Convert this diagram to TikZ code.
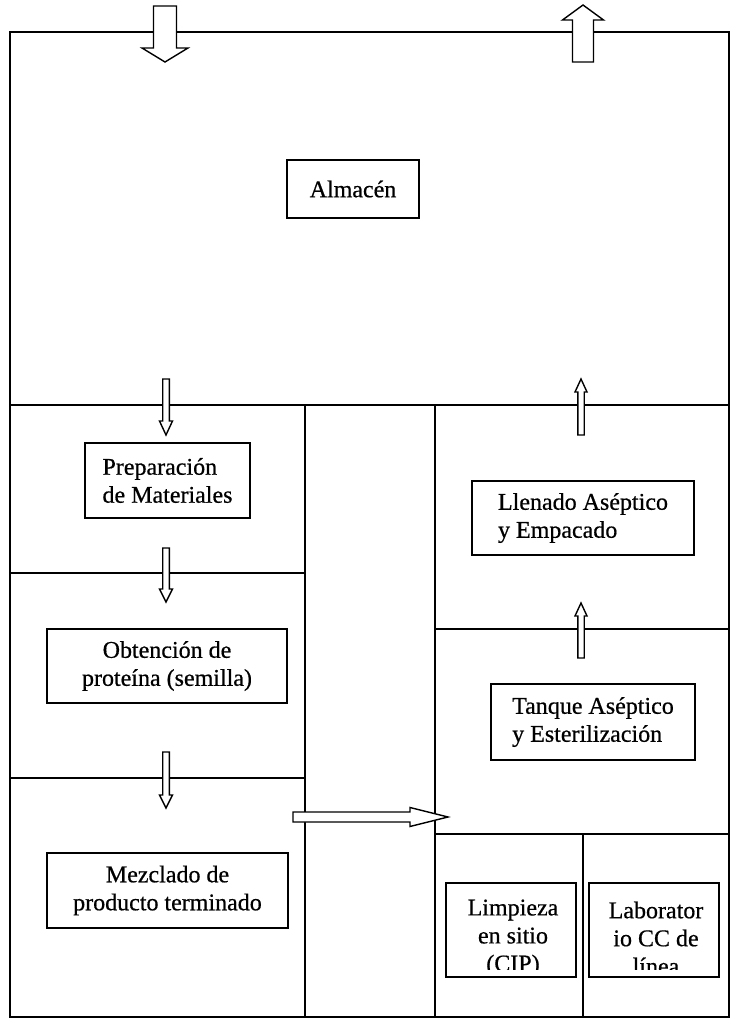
\documentclass[tikz,border=0pt]{standalone}
\usepackage{fontspec}
\setmainfont{Liberation Serif}[FakeBold=0.6]
\newcommand{\vblockarrow}[6]{% cx, ytail, ytip, yheadbase, shafthalf, headhalf
  \draw[blockarrow] ({#1-#5},#2) -- ({#1-#5},#4) -- ({#1-#6},#4) -- (#1,#3)
    -- ({#1+#6},#4) -- ({#1+#5},#4) -- ({#1+#5},#2) -- cycle;}
\begin{document}
\begin{tikzpicture}[x=1pt,y=-1pt,
  wall/.style={line width=1.8pt},
  blockarrow/.style={draw, fill=white, line width=1.4pt, line join=miter},
  box/.style={draw, line width=1.7pt, inner sep=0pt, align=left,
    font=\fontsize{24}{28}\selectfont},
  cbox/.style={box, align=center},
  txt/.style={inner sep=0pt, align=center, font=\fontsize{24}{28}\selectfont}]
\useasboundingbox (0,0) rectangle (731,1019);
% walls
\draw[wall] (10,32) rectangle (729,1017);
\draw[wall] (10,405) -- (729,405);
\draw[wall] (305,405) -- (305,1017);
\draw[wall] (435,405) -- (435,1017);
\draw[wall] (10,573) -- (305,573);
\draw[wall] (10,778) -- (305,778);
\draw[wall] (435,629) -- (729,629);
\draw[wall] (435,834) -- (729,834);
\draw[wall] (583,834) -- (583,1017);
% boxes
\node[box, minimum width=132pt, minimum height=58pt] (alm) at (353,189) {Almac\'en};
\node[box, minimum width=165pt, minimum height=75pt] (prep) at (167.5,480.5) {Preparaci\'on\\de Materiales};
\node[cbox, minimum width=240pt, minimum height=74pt] (obt) at (167,666) {Obtenci\'on de\\prote\'ina (semilla)};
\node[cbox, minimum width=241pt, minimum height=75pt] (mez) at (167.5,890.5) {Mezclado de\\producto terminado};
\node[box, minimum width=222pt, minimum height=74pt] (llen) at (583,518) {Llenado As\'eptico\\y Empacado};
\node[box, minimum width=204pt, minimum height=76pt] (tanq) at (593,722) {Tanque As\'eptico\\y Esterilizaci\'on};
\node[draw, line width=1.7pt, minimum width=130pt, minimum height=94pt] (cip) at (511,930) {};
\node[draw, line width=1.7pt, minimum width=130pt, minimum height=94pt] (lab) at (654,930) {};
\begin{scope}
  \clip (446,884) rectangle (576,969);
  \node[txt] (ciptxt) at (513,938) {Limpieza\\en sitio\\(CIP)};
\end{scope}
\begin{scope}
  \clip (589,884) rectangle (719,969);
  \node[txt] (labtxt) at (656,938) {Laborator\\io CC de\\l\'inea};
\end{scope}
% block arrows
\vblockarrow{165}{6}{62}{48}{11.5}{23}
\vblockarrow{583}{62}{5}{20}{10.5}{20.5}
\vblockarrow{166}{379}{435}{421}{3.3}{6.5}
\vblockarrow{166}{548}{602}{589}{3.3}{6.5}
\vblockarrow{166}{752}{808}{795}{3.3}{6.5}
\vblockarrow{581}{435}{379}{392}{3.2}{6}
\vblockarrow{581}{658}{603}{616}{3.2}{6}
\draw[blockarrow] (293,812) -- (410,812) -- (410,807.5) -- (448,817)
  -- (410,826.5) -- (410,822) -- (293,822) -- cycle;
\end{tikzpicture}
\end{document}
